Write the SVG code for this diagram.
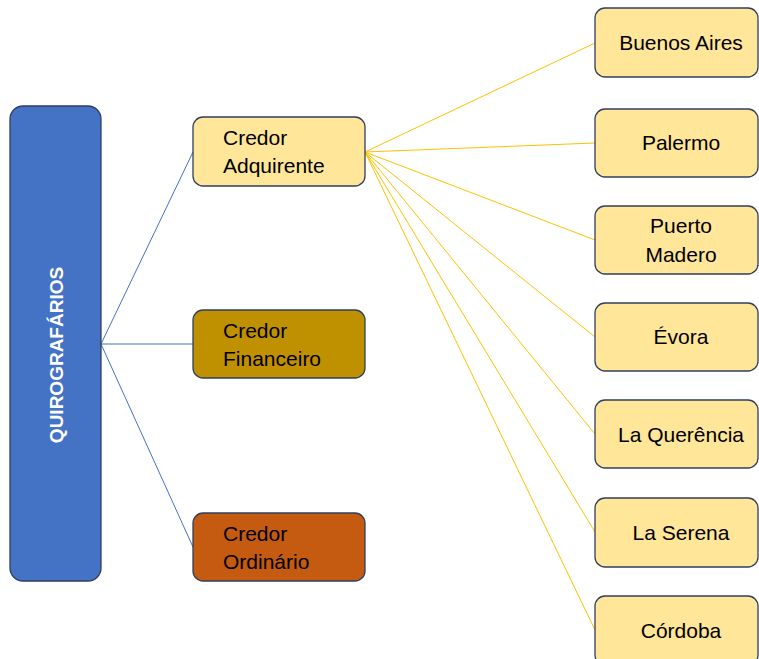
<svg xmlns="http://www.w3.org/2000/svg" width="759" height="659" viewBox="0 0 759 659">
<style>
.box{stroke:#2F3F5F;stroke-width:1.3}
.lt{fill:#FFE699}
.t{font-family:"Liberation Sans",Arial,sans-serif;font-size:21px;fill:#000}
.c{text-anchor:middle}
.bl{stroke:#4472C4;stroke-width:1;fill:none}
.yl{stroke:#FFC000;stroke-width:1;fill:none}
</style>
<rect width="759" height="659" fill="#fff"/>
<g id="connectors">
<line class="bl" x1="101" y1="344" x2="193" y2="152"/>
<line class="bl" x1="101" y1="344" x2="193" y2="344"/>
<line class="bl" x1="101" y1="344" x2="193" y2="547"/>
<line class="yl" x1="365" y1="152" x2="595" y2="43"/>
<line class="yl" x1="365" y1="152" x2="595" y2="143"/>
<line class="yl" x1="365" y1="152" x2="595" y2="240"/>
<line class="yl" x1="365" y1="152" x2="595" y2="337"/>
<line class="yl" x1="365" y1="152" x2="595" y2="434"/>
<line class="yl" x1="365" y1="152" x2="595" y2="532"/>
<line class="yl" x1="365" y1="152" x2="595" y2="630"/>
</g>
<g id="quirografarios">
<rect class="box" x="10" y="106" width="91" height="475" rx="13" fill="#4472C4"/>
<text transform="translate(63,355) rotate(-90)" text-anchor="middle" font-family="Liberation Sans,Arial,sans-serif" font-size="19" font-weight="bold" fill="#fff">QUIROGRAFÁRIOS</text>
</g>
<g id="credor-adquirente">
<rect class="box lt" x="193" y="117" width="172" height="69" rx="10"/>
<text class="t" x="223" y="145">Credor</text>
<text class="t" x="223" y="173">Adquirente</text>
</g>
<g id="credor-financeiro">
<rect class="box" x="193" y="310" width="172" height="68" rx="10" fill="#BF9000"/>
<text class="t" x="223" y="338">Credor</text>
<text class="t" x="223" y="366">Financeiro</text>
</g>
<g id="credor-ordinario">
<rect class="box" x="193" y="513" width="172" height="68" rx="10" fill="#C55A11"/>
<text class="t" x="223" y="541">Credor</text>
<text class="t" x="223" y="569">Ordinário</text>
</g>
<g id="buenos-aires">
<rect class="box lt" x="595" y="8" width="163" height="69" rx="10"/>
<text class="t c" x="681" y="50">Buenos Aires</text>
</g>
<g id="palermo">
<rect class="box lt" x="595" y="109" width="163" height="68" rx="10"/>
<text class="t c" x="681" y="150">Palermo</text>
</g>
<g id="puerto-madero">
<rect class="box lt" x="595" y="206" width="163" height="68" rx="10"/>
<text class="t c" x="681" y="233">Puerto</text>
<text class="t c" x="681" y="262">Madero</text>
</g>
<g id="evora">
<rect class="box lt" x="595" y="303" width="163" height="68" rx="10"/>
<text class="t c" x="681" y="344">Évora</text>
</g>
<g id="la-querencia">
<rect class="box lt" x="595" y="400" width="163" height="68" rx="10"/>
<text class="t c" x="681" y="442">La Querência</text>
</g>
<g id="la-serena">
<rect class="box lt" x="595" y="498" width="163" height="69" rx="10"/>
<text class="t c" x="681" y="540">La Serena</text>
</g>
<g id="cordoba">
<rect class="box lt" x="595" y="596" width="163" height="69" rx="10"/>
<text class="t c" x="681" y="638">Córdoba</text>
</g>
</svg>
